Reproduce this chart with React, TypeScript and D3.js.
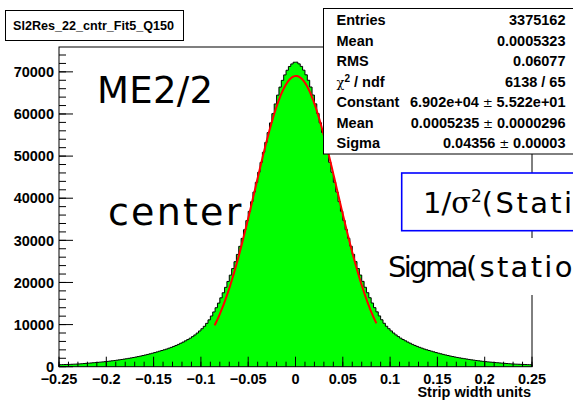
import React from "react";
import * as d3 from "d3";

// Histogram: 200 bins over [-0.25, 0.25]
const xMin = -0.25;
const xMax = 0.25;
const leftCounts = [
  480, 495, 515, 530, 550, 575, 600, 625, 660, 700,
  745, 790, 835, 885, 935, 985, 1035, 1085, 1140, 1195,
  1260, 1325, 1395, 1465, 1545, 1625, 1710, 1800, 1890, 1985,
  2080, 2180, 2290, 2400, 2520, 2645, 2780, 2910, 3050, 3200,
  3350, 3510, 3680, 3840, 4010, 4190, 4390, 4590, 4810, 5040,
  5290, 5570, 5840, 6140, 6440, 6770, 7140, 7540, 7990, 8490,
  9010, 9590, 10290, 11120, 12040, 13000, 14000, 15100, 16350, 17550,
  18840, 20240, 21740, 23290, 24930, 26660, 28580, 30460, 32520, 34680,
  36880, 39160, 41460, 43760, 46150, 48500, 50900, 53240, 55580, 57880,
  60080, 62380, 64480, 66380, 67980, 69280, 70380, 71280, 71880, 72280,
];
const rightCounts = [
  72300, 71900, 71300, 70400, 69300, 68000, 66400, 64500, 62400, 60100,
  57900, 55600, 53260, 50920, 48520, 46170, 43780, 41480, 39180, 36900,
  34700, 32540, 30480, 28600, 26680, 24950, 23310, 21760, 20260, 18860,
  17570, 16370, 15120, 14020, 13020, 12060, 11140, 10310, 9600, 9020,
  8500, 8000, 7550, 7150, 6780, 6450, 6150, 5850, 5580, 5300,
  5050, 4820, 4600, 4400, 4200, 4020, 3850, 3690, 3520, 3360,
  3210, 3060, 2920, 2790, 2660, 2530, 2410, 2300, 2190, 2090,
  1990, 1900, 1810, 1720, 1630, 1550, 1470, 1400, 1330, 1265,
  1200, 1145, 1090, 1040, 990, 940, 890, 840, 790, 750,
  705, 665, 630, 600, 580, 555, 530, 510, 490, 470,
];
const counts = [...leftCounts, ...rightCounts];

const yMaxValue = 75900;
const yTickValues = [0, 10000, 20000, 30000, 40000, 50000, 60000, 70000];
const yTickLabels = ["0", "10000", "20000", "30000", "40000", "50000", "60000", "70000"];
const xTickValues = [-0.25, -0.2, -0.15, -0.1, -0.05, 0, 0.05, 0.1, 0.15, 0.2, 0.25];
const xTickLabels = ["\u22120.25", "\u22120.2", "\u22120.15", "\u22120.1", "\u22120.05", "0", "0.05", "0.1", "0.15", "0.2", "0.25"];

// Fit parameters (gaus)
const fitConstant = 69020;
const fitMean = 0.0005235;
const fitSigma = 0.04356;
const fitRange = [-0.0855, 0.0855];

const titleText = "Sl2Res_22_cntr_Fit5_Q150";
const statLabels = ["Entries", "Mean", "RMS", "CHI", "Constant", "Mean", "Sigma"];
const statValues = ["3375162", "0.0005323", "0.06077", "6138 / 65", "6.902e+04|5.522e+01", "0.0005235|0.0000296", "0.04356|0.00003"];

const FONT = "'Liberation Sans', Arial, Helvetica, sans-serif";
const HAND = "'DejaVu Sans', sans-serif";

export default function App() {
  const W = 573;
  const H = 400;
  const left = 59, right = 532, top = 47, bottom = 366.7;
  const x = d3.scaleLinear().domain([xMin, xMax]).range([left, right]);
  const y = d3.scaleLinear().domain([0, yMaxValue]).range([bottom, top]);

  const n = counts.length;
  const bw = (xMax - xMin) / n;
  const pts: [number, number][] = counts.map((c, i) => [xMin + i * bw, c]);
  pts.push([xMax, counts[n - 1]]);

  const area = d3
    .area<[number, number]>()
    .curve(d3.curveStepAfter)
    .x((d) => x(d[0]))
    .y0(y(0))
    .y1((d) => y(d[1]));
  const outline = d3
    .line<[number, number]>()
    .curve(d3.curveStepAfter)
    .x((d) => x(d[0]))
    .y((d) => y(d[1]));
  const outlinePath =
    `M${x(xMin)},${y(0)}` +
    (outline(pts) || "").replace(/^M/, "L") +
    `L${x(xMax)},${y(0)}`;

  const fitXs = d3.range(0, 201).map((i) => fitRange[0] + ((fitRange[1] - fitRange[0]) * i) / 200);
  const fitLine = d3
    .line<number>()
    .x((v) => x(v))
    .y((v) => y(fitConstant * Math.exp(-0.5 * Math.pow((v - fitMean) / fitSigma, 2))));

  const xMinor = d3.range(0, 51).map((i) => xMin + i * 0.01);
  const yMinor = d3.range(0, 38).map((i) => i * 2000).filter((v) => v <= yMaxValue);

  const statRowY = (i: number) => 19.8 + i * 20.55;

  const renderValue = (v: string) => {
    const parts = v.split("|");
    if (parts.length === 1) return v;
    return (
      <>
        {parts[0]}
        <tspan fontWeight="normal" fontFamily="'DejaVu Sans', sans-serif" fontSize="12">{" \u00B1 "}</tspan>
        {parts[1]}
      </>
    );
  };

  return (
    <svg
      width={W}
      height={H}
      viewBox={`0 0 ${W} ${H}`}
      style={{ position: "absolute", left: 0, top: 0, background: "#fff" }}
    >
      <rect x={0} y={0} width={W} height={H} fill="#fff" />
      {/* histogram */}
      <path d={area(pts) || ""} fill="#00ff00" stroke="none" />
      <path d={outlinePath} fill="none" stroke="#000" strokeWidth={1} />
      {/* fit */}
      <path d={fitLine(fitXs) || ""} fill="none" stroke="#ff0000" strokeWidth={2} />

      {/* frame */}
      <rect x={left} y={top} width={right - left} height={bottom - top} fill="none" stroke="#000" strokeWidth={1} />

      {/* x axis ticks */}
      {xMinor.map((v, i) => (
        <line key={"xm" + i} x1={x(v)} x2={x(v)} y1={bottom} y2={bottom - 5} stroke="#000" strokeWidth={1} />
      ))}
      {xTickValues.map((v, i) => (
        <line key={"xM" + i} x1={x(v)} x2={x(v)} y1={bottom} y2={bottom - 10} stroke="#000" strokeWidth={1} />
      ))}
      {xTickValues.map((v, i) => (
        <text key={"xl" + i} x={x(v)} y={383.5} textAnchor="middle" fontFamily={FONT} fontWeight="bold" fontSize={14.5}>
          {xTickLabels[i]}
        </text>
      ))}
      <text x={531} y={396.5} textAnchor="end" fontFamily={FONT} fontWeight="bold" fontSize={14.5}>
        Strip width units
      </text>

      {/* y axis ticks */}
      {yMinor.map((v, i) => (
        <line key={"ym" + i} x1={left} x2={left + 7} y1={y(v)} y2={y(v)} stroke="#000" strokeWidth={1} />
      ))}
      {yTickValues.map((v, i) => (
        <line key={"yM" + i} x1={left} x2={left + 14} y1={y(v)} y2={y(v)} stroke="#000" strokeWidth={1} />
      ))}
      {yTickValues.map((v, i) => (
        <text key={"yl" + i} x={54} y={y(v)} dy="0.36em" textAnchor="end" fontFamily={FONT} fontWeight="bold" fontSize={14.5}>
          {yTickLabels[i]}
        </text>
      ))}

      {/* title box */}
      <rect x={5.5} y={10.5} width={178} height={30} fill="#fff" stroke="#000" strokeWidth={1} />
      <text x={13} y={30} fontFamily={FONT} fontWeight="bold" fontSize={12.6}>
        {titleText}
      </text>

      {/* stats box */}
      <rect x={323.5} y={8.5} width={260} height={145.5} fill="#fff" stroke="#000" strokeWidth={1} />
      {statLabels.map((lab, i) => (
        <text key={"sl" + i} x={336.5} y={statRowY(i) + 5.2} fontFamily={FONT} fontWeight="bold" fontSize={14.5}>
          {lab === "CHI" ? (
            <>
              <tspan fontWeight="normal" fontFamily="'DejaVu Serif', serif" fontSize={13}>{"\u03C7"}</tspan>
              <tspan fontSize={10} dy={-5}>2</tspan>
              <tspan dy={5}>{" / ndf"}</tspan>
            </>
          ) : (
            lab
          )}
        </text>
      ))}
      {statValues.map((v, i) => (
        <text key={"sv" + i} x={565.5} y={statRowY(i) + 5.2} textAnchor="end" fontFamily={FONT} fontWeight="bold" fontSize={14.5}>
          {renderValue(v)}
        </text>
      ))}

      {/* hand-written labels */}
      <text x={97} y={103} fontFamily={HAND} fontSize={37} letterSpacing={0.3}>
        ME2/2
      </text>
      <text x={108} y={225} fontFamily={HAND} fontSize={38} letterSpacing={2.2}>
        center
      </text>

      {/* blue box */}
      <rect x={401.7} y={173} width={200} height={57.7} fill="#fff" stroke="#0000ff" strokeWidth={1.6} />
      <text x={423} y={213} fontFamily={HAND} fontSize={29}>
        1/
        <tspan fontFamily="'DejaVu Serif', serif">{"\u03C3"}</tspan>
        <tspan fontSize={17} dy={-11}>2</tspan>
        <tspan dy={11} letterSpacing={2.4}>(Station)</tspan>
      </text>

      {/* sigma text box */}
      <rect x={384} y={238} width={200} height={57} fill="#fff" stroke="none" />
      <text x={388} y={277} fontFamily={HAND} fontSize={29}>
        <tspan letterSpacing={-2.6}>Sigma</tspan>
        <tspan letterSpacing={2.3}>(station)</tspan>
      </text>
    </svg>
  );
}
